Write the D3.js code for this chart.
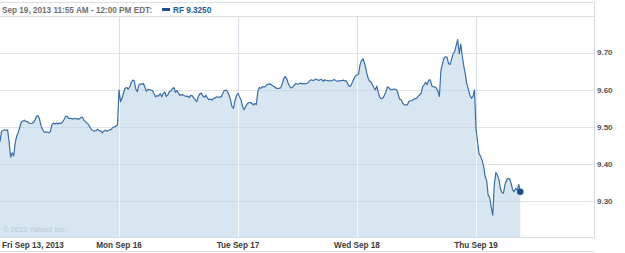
<!DOCTYPE html>
<html>
<head>
<meta charset="utf-8">
<script src="https://cdn.jsdelivr.net/npm/d3@7"></script>
<style>
  body { margin: 0; background: #fff; }
  svg { display: block; }
  text { font-family: "Liberation Sans", Arial, sans-serif; }
</style>
</head>
<body>
<div id="chart"></div>
<script>
// Tage, Achsenbeschriftungen, Kurse (5-Minuten-Schritte ab 9:30)
const dayLabels = ["Fri Sep 13, 2013", "Mon Sep 16", "Tue Sep 17", "Wed Sep 18", "Thu Sep 19"];
const priceTicks = [9.30, 9.40, 9.50, 9.60, 9.70];
const headerText = "Sep 19, 2013 11:55 AM - 12:00 PM EDT:";
const legendText = "RF 9.3250";

const fri = [9.46, 9.488, 9.49, 9.492, 9.49, 9.492, 9.458, 9.418, 9.43, 9.422,
    9.458, 9.476, 9.485, 9.499, 9.513, 9.516, 9.518, 9.514, 9.515, 9.51,
    9.509, 9.51, 9.512, 9.519, 9.529, 9.53, 9.519, 9.501, 9.492, 9.486,
    9.486, 9.486, 9.484, 9.487, 9.506, 9.51, 9.508, 9.51, 9.508, 9.51,
    9.509, 9.513, 9.52, 9.528, 9.528, 9.523, 9.523, 9.522, 9.521, 9.523,
    9.521, 9.522, 9.521, 9.525, 9.526, 9.518, 9.514, 9.51, 9.506, 9.499,
    9.492, 9.49, 9.489, 9.49, 9.494, 9.49, 9.489, 9.484, 9.488, 9.491,
    9.488, 9.49, 9.492, 9.493, 9.499, 9.5, 9.502, 9.505];
const mon = [9.599, 9.568, 9.577, 9.592, 9.604, 9.606, 9.602, 9.607, 9.619, 9.626,
    9.624, 9.602, 9.595, 9.613, 9.616, 9.614, 9.617, 9.607, 9.596, 9.601,
    9.6, 9.599, 9.598, 9.589, 9.581, 9.584, 9.583, 9.59, 9.581, 9.59,
    9.594, 9.582, 9.586, 9.595, 9.596, 9.603, 9.606, 9.593, 9.598, 9.591,
    9.585, 9.587, 9.586, 9.584, 9.582, 9.583, 9.579, 9.585, 9.584, 9.578,
    9.573, 9.568, 9.582, 9.589, 9.591, 9.583, 9.58, 9.585, 9.577, 9.573,
    9.575, 9.572, 9.577, 9.578, 9.581, 9.579, 9.581, 9.581, 9.59, 9.598,
    9.599, 9.596, 9.587, 9.575, 9.555, 9.55, 9.57, 9.584];
const tue = [9.59, 9.581, 9.573, 9.555, 9.546, 9.555, 9.562, 9.565, 9.566, 9.564,
    9.559, 9.563, 9.56, 9.595, 9.606, 9.604, 9.609, 9.607, 9.609, 9.614,
    9.615, 9.616, 9.613, 9.61, 9.608, 9.604, 9.604, 9.604, 9.605, 9.616,
    9.631, 9.636, 9.629, 9.616, 9.608, 9.605, 9.608, 9.613, 9.617, 9.615,
    9.616, 9.618, 9.616, 9.617, 9.616, 9.617, 9.619, 9.625, 9.627, 9.625,
    9.626, 9.629, 9.627, 9.625, 9.628, 9.627, 9.623, 9.627, 9.625, 9.625,
    9.624, 9.624, 9.625, 9.628, 9.625, 9.623, 9.624, 9.624, 9.625, 9.626,
    9.624, 9.624, 9.616, 9.609, 9.611, 9.621, 9.63, 9.637];
const wed = [9.64, 9.642, 9.667, 9.679, 9.683, 9.671, 9.652, 9.635, 9.624, 9.622,
    9.614, 9.606, 9.6, 9.61, 9.592, 9.579, 9.576, 9.578, 9.585, 9.595,
    9.608, 9.605, 9.6, 9.6, 9.602, 9.601, 9.6, 9.588, 9.574, 9.573,
    9.564, 9.559, 9.559, 9.559, 9.569, 9.57, 9.571, 9.574, 9.576, 9.577,
    9.582, 9.586, 9.59, 9.608, 9.613, 9.62, 9.614, 9.626, 9.627, 9.611,
    9.608, 9.608, 9.605, 9.596, 9.582, 9.652, 9.67, 9.685, 9.689, 9.688,
    9.671, 9.668, 9.682, 9.697, 9.703, 9.719, 9.735, 9.697, 9.723, 9.691,
    9.664, 9.642, 9.616, 9.601, 9.586, 9.577, 9.582, 9.6];
const thu = [9.495, 9.46, 9.427, 9.421, 9.41, 9.394, 9.366, 9.355, 9.315, 9.31,
    9.283, 9.262, 9.345, 9.377, 9.37, 9.359, 9.333, 9.323, 9.321, 9.344,
    9.356, 9.361, 9.36, 9.348, 9.33, 9.325, 9.334, 9.33, 9.345, 9.325];

const stepsPerDay = 78;
const days = [fri, mon, tue, wed, thu];
const points = days.flatMap((vals, d) => vals.map((v, i) => ({ t: d + i / stepsPerDay, v })));

const width = 625, height = 253;
const plotTop = 17, plotBottom = 237, plotRight = 594;

const svg = d3.select("#chart").append("svg")
    .attr("width", width)
    .attr("height", height);

const x = d3.scaleLinear().domain([0, 5]).range([0, 595]);
const y = d3.scaleLinear().domain([9.2, 9.8]).range([238.1, 15.6]);

const area = d3.area()
    .x(d => x(d.t))
    .y0(plotBottom)
    .y1(d => y(d.v));
const line = d3.line()
    .x(d => x(d.t))
    .y(d => y(d.v));

// Kopfzeile mit Rahmen
const frame = svg.append("g").attr("shape-rendering", "crispEdges");
frame.append("line").attr("x1", 0).attr("x2", plotRight + 0.5).attr("y1", 2.5).attr("y2", 2.5).attr("stroke", "#dadfe4");
frame.append("line").attr("x1", 0).attr("x2", plotRight + 0.5).attr("y1", plotTop - 0.5).attr("y2", plotTop - 0.5).attr("stroke", "#dadfe4");

// Gitter hinter der Fläche
const grid = svg.append("g").attr("shape-rendering", "crispEdges");
grid.selectAll("line.h")
    .data(priceTicks)
    .enter().append("line")
    .attr("x1", 0).attr("x2", plotRight)
    .attr("y1", d => Math.round(y(d)) + 0.5).attr("y2", d => Math.round(y(d)) + 0.5)
    .attr("stroke", "#e1e5e9");
grid.selectAll("line.v")
    .data(d3.range(1, 5))
    .enter().append("line")
    .attr("x1", d => Math.round(x(d)) + 0.5).attr("x2", d => Math.round(x(d)) + 0.5)
    .attr("y1", plotTop).attr("y2", plotBottom)
    .attr("stroke", "#d6dfe7");

svg.append("path")
    .datum(points)
    .attr("d", area)
    .attr("fill", "#d7e6f1");

// Gitter innerhalb der Fläche
svg.append("clipPath").attr("id", "areaClip")
    .append("path").datum(points).attr("d", area);
const inner = svg.append("g").attr("clip-path", "url(#areaClip)").attr("shape-rendering", "crispEdges");
inner.selectAll("line.h")
    .data(priceTicks)
    .enter().append("line")
    .attr("x1", 0).attr("x2", plotRight)
    .attr("y1", d => Math.round(y(d)) + 0.5).attr("y2", d => Math.round(y(d)) + 0.5)
    .attr("stroke", "#c8d9e7");
inner.selectAll("line.v")
    .data(d3.range(1, 5))
    .enter().append("line")
    .attr("x1", d => Math.round(x(d)) + 0.5).attr("x2", d => Math.round(x(d)) + 0.5)
    .attr("y1", plotTop).attr("y2", plotBottom)
    .attr("stroke", "#f4f8fb");

svg.append("text")
    .attr("x", 3).attr("y", 232)
    .attr("font-size", "7.5px")
    .attr("fill", "#b6c8d7")
    .text("\u00a9 2013 Yahoo! Inc.");

svg.append("path")
    .datum(points)
    .attr("d", line)
    .attr("fill", "none")
    .attr("stroke", "#3b6ea6")
    .attr("stroke-width", 1.2)
    .attr("stroke-linejoin", "round");

const last = points[points.length - 1];
svg.append("circle")
    .attr("cx", x(last.t)).attr("cy", y(last.v))
    .attr("r", 3.3)
    .attr("fill", "#1f4f86");

// Rahmenlinien unten und rechts
frame.raise();
frame.append("line").attr("x1", plotRight + 0.5).attr("x2", plotRight + 0.5).attr("y1", 2).attr("y2", plotBottom + 1).attr("stroke", "#d6dde3");
frame.append("line").attr("x1", 0).attr("x2", plotRight).attr("y1", plotBottom + 0.5).attr("y2", plotBottom + 0.5).attr("stroke", "#d6dde3");
frame.append("line").attr("x1", 0).attr("x2", plotRight).attr("y1", 251.5).attr("y2", 251.5).attr("stroke", "#dcdcdc");

// Beschriftungen
svg.append("text")
    .attr("x", 2).attr("y", 12.5)
    .attr("font-size", "8.2px").attr("font-weight", "bold")
    .attr("fill", "#707070")
    .text(headerText);
svg.append("rect")
    .attr("x", 162).attr("y", 8).attr("width", 8).attr("height", 3)
    .attr("fill", "#1f4f86");
svg.append("text")
    .attr("x", 173).attr("y", 12.5)
    .attr("font-size", "8.2px").attr("font-weight", "bold")
    .attr("fill", "#265a94")
    .text(legendText);

svg.append("g")
    .selectAll("text")
    .data(dayLabels)
    .enter().append("text")
    .attr("x", (d, i) => i === 0 ? 2 : x(i))
    .attr("y", 247.5)
    .attr("text-anchor", (d, i) => i === 0 ? "start" : "middle")
    .attr("font-size", "8.2px").attr("font-weight", "bold")
    .attr("fill", "#3a3a3a")
    .text(d => d);

svg.append("g")
    .selectAll("text")
    .data(priceTicks)
    .enter().append("text")
    .attr("x", 597)
    .attr("y", d => y(d))
    .attr("dy", "0.35em")
    .attr("font-size", "8px").attr("font-weight", "bold")
    .attr("fill", "#555")
    .text(d => d.toFixed(2));
</script>
</body>
</html>
